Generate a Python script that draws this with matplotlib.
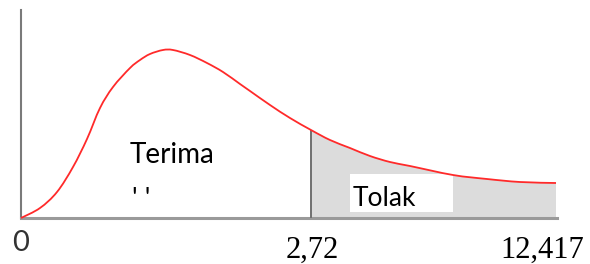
import matplotlib
matplotlib.use("Agg")
import matplotlib.pyplot as plt
from matplotlib.patches import Rectangle, PathPatch
from matplotlib.path import Path
import numpy as np

# curve (schematic units)
curve_x = [0, 19, 36, 52, 66, 79, 92, 109, 119, 129, 142, 152, 169, 186, 202, 219, 229,
           249, 269, 290, 309, 329, 349, 369, 389, 432, 466, 499, 535]
curve_y = [0, 10, 26, 51, 79, 110, 131, 150, 158, 164, 168, 168, 163, 155, 146, 134, 127,
           113, 100, 88, 78, 70, 62, 56, 52, 43, 39, 36, 35]
critical_x = 290
tick_pos = [0, 291, 521]
tick_labels = ["0", "2,72", "12,417"]
region_labels = ["Terima", "Tolak"]


def smooth_path(xs, ys, close_base=False):
    """Bezier path passing through the given points (Catmull-Rom tangents)."""
    P = np.column_stack([xs, ys]).astype(float)
    n = len(P)
    verts = [tuple(P[0])]
    codes = [Path.MOVETO]
    for i in range(n - 1):
        p0 = P[i - 1] if i > 0 else P[i]
        p1, p2 = P[i], P[i + 1]
        p3 = P[i + 2] if i + 2 < n else P[i + 1]
        c1 = p1 + (p2 - p0) / 6.0
        c2 = p2 - (p3 - p1) / 6.0
        verts += [tuple(c1), tuple(c2), tuple(p2)]
        codes += [Path.CURVE4] * 3
    if close_base:
        verts += [(xs[-1], 0), (xs[0], 0), tuple(P[0])]
        codes += [Path.LINETO, Path.LINETO, Path.CLOSEPOLY]
    return Path(verts, codes)


fig = plt.figure(figsize=(5.9, 2.64), dpi=100)
W, H = 590, 264
ax = fig.add_axes([21 / W, (H - 218) / H, (557 - 21) / W, (218 - 10) / H])
ax.set_xlim(0, 536)
ax.set_ylim(0, 208)

cx = np.array(curve_x, dtype=float)
cy = np.array(curve_y, dtype=float)
mask = cx >= critical_x
ax.add_patch(PathPatch(smooth_path(cx[mask], cy[mask], close_base=True),
                       facecolor="#dcdcdc", edgecolor="none", zorder=1))
ax.add_patch(PathPatch(smooth_path(cx, cy), facecolor="none", edgecolor="#ff2a2a",
                       lw=1.3, zorder=4, clip_on=False))
ax.vlines(critical_x, 0, cy[cx == critical_x][0], color="#707070", lw=1.4, zorder=3)

ax.add_patch(Rectangle((329, 6), 103, 38, facecolor="white", edgecolor="none", zorder=2))

ax.text(109, 55, region_labels[0], family="Lato", fontsize=20, color="black", va="baseline", ha="left")
ax.text(111, 10, "' '", family="Lato", fontsize=20, color="black", va="baseline", ha="left")
ax.text(332, 12, region_labels[1], family="Lato", fontsize=19, color="black", va="baseline", ha="left", zorder=5)

ax.set_xticks([])
ax.set_yticks([])
ax.text(tick_pos[0], -33, tick_labels[0], family="Lato", fontsize=21, color="#333333",
        ha="center", va="baseline", clip_on=False)
for p, lab in zip(tick_pos[1:], tick_labels[1:]):
    ax.text(p, -40, lab, family="Liberation Serif", fontsize=22, color="black",
            ha="center", va="baseline", clip_on=False)

for s in ["top", "right"]:
    ax.spines[s].set_visible(False)
ax.spines["left"].set_color("#7a7a7a")
ax.spines["left"].set_linewidth(1.5)
ax.spines["bottom"].set_color("#9a9a9a")
ax.spines["bottom"].set_linewidth(2.2)
ax.patch.set_alpha(0)

fig.savefig("out.png", dpi=100)
